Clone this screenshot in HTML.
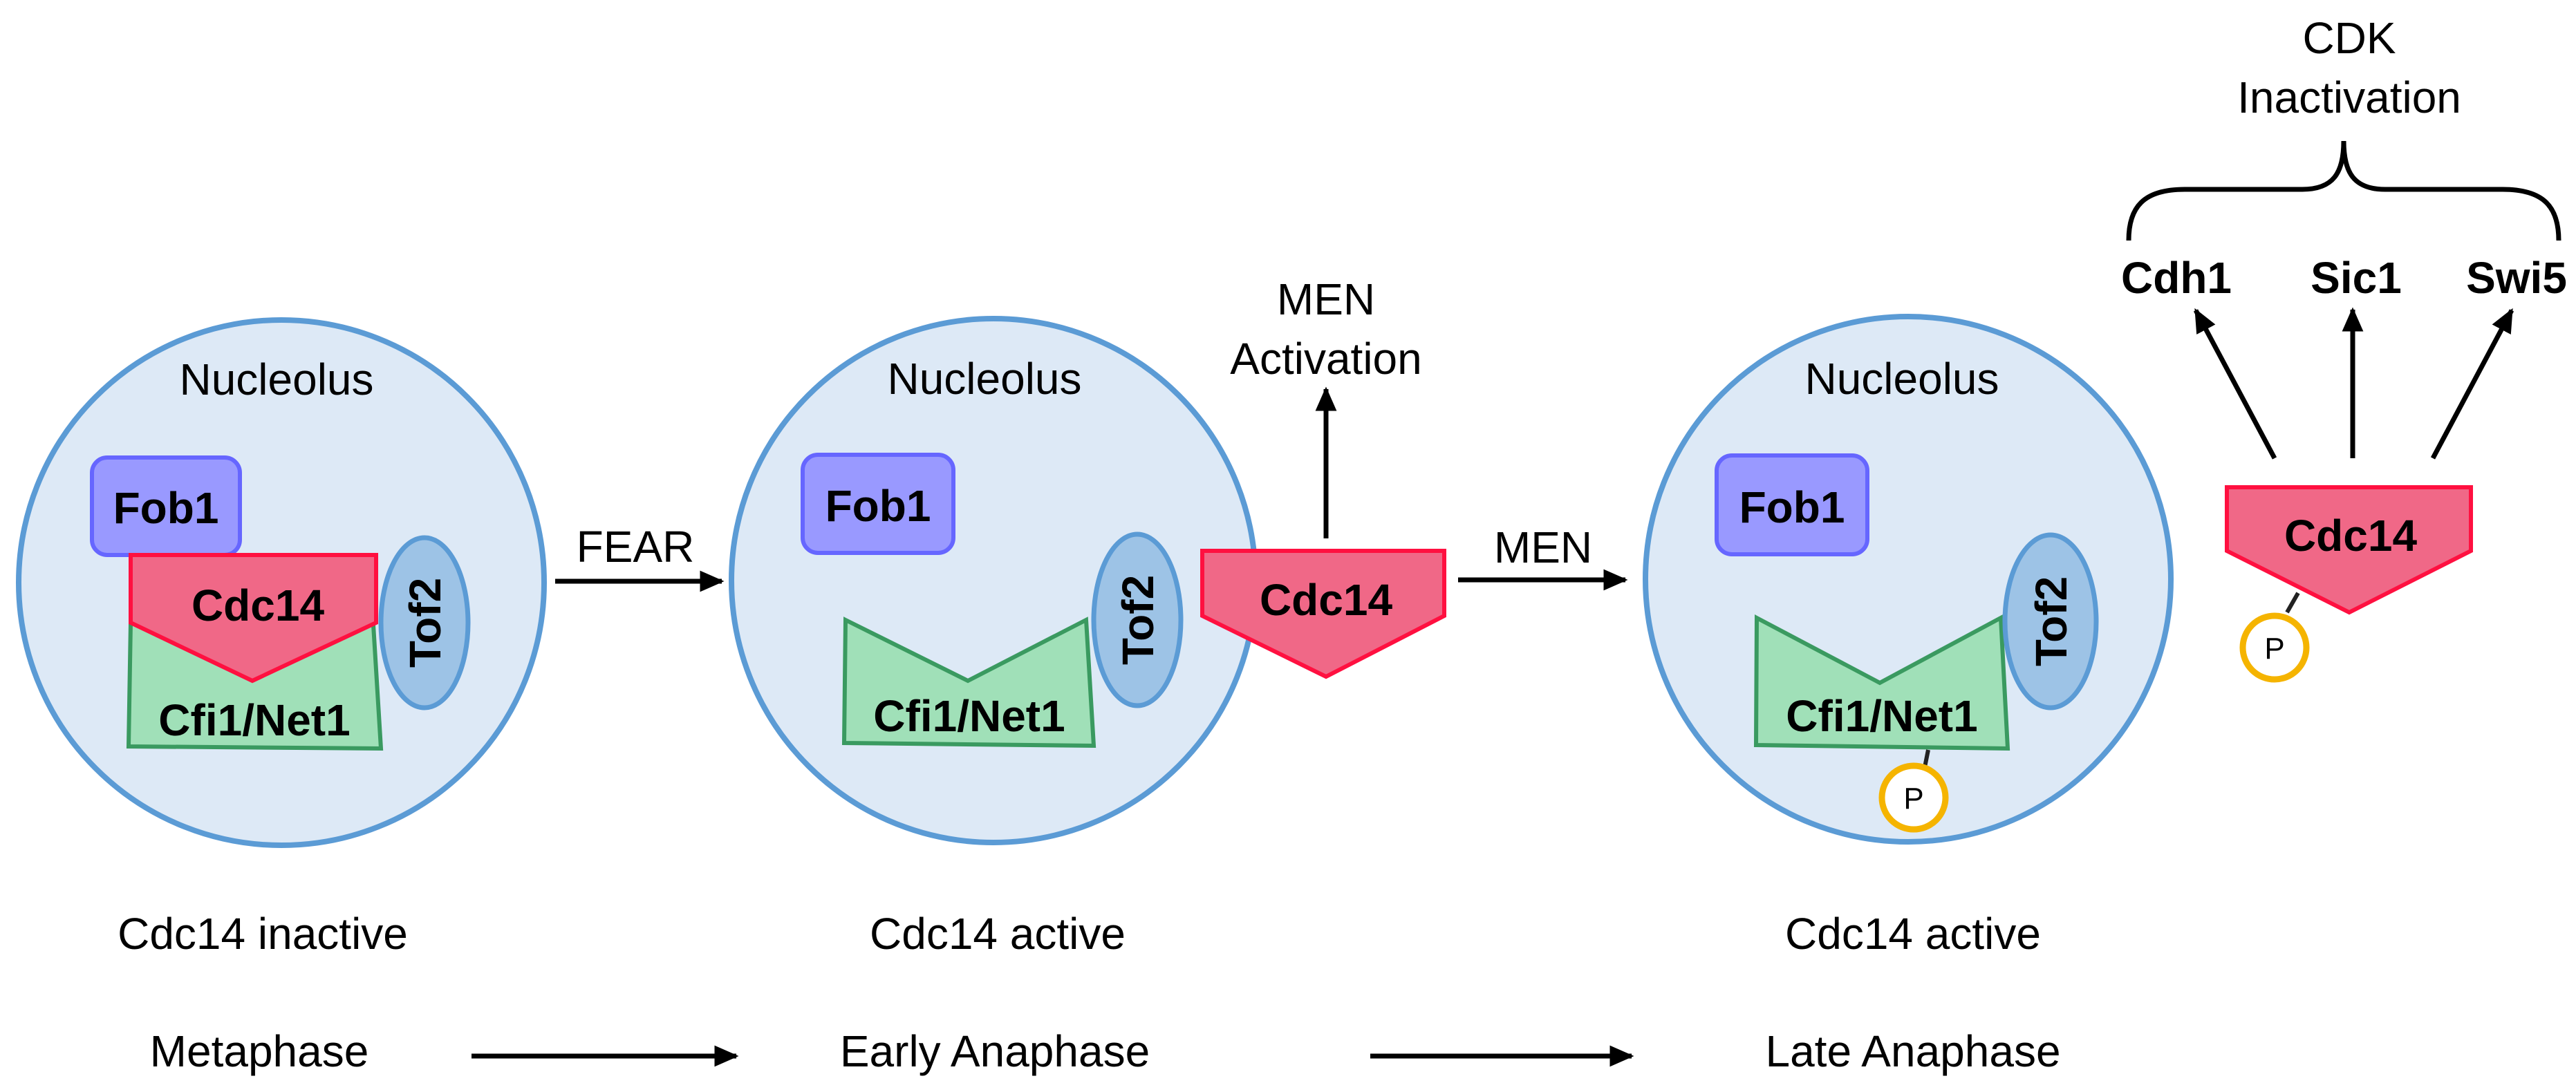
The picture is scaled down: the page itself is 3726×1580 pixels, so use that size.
<!DOCTYPE html>
<html><head><meta charset="utf-8"><style>
html,body{margin:0;padding:0;background:#fff;}
svg{display:block;}
text{font-family:"Liberation Sans",Arial,sans-serif;fill:#000;}
.b{font-weight:bold;}
</style></head><body>
<svg width="3726" height="1580" viewBox="0 0 3726 1580" xmlns="http://www.w3.org/2000/svg">
<defs>
<marker id="ah" markerWidth="5" markerHeight="5" refX="4.5" refY="2.5" orient="auto" markerUnits="strokeWidth">
<path d="M0,0.3 L5,2.5 L0,4.7 z" fill="#000"/>
</marker>
</defs>
<g stroke="#5b9bd5" stroke-width="8" fill="#dde9f6">
<circle cx="407" cy="843" r="380"/>
<circle cx="1437" cy="840" r="379"/>
<circle cx="2760" cy="838" r="380"/>
</g>
<g font-size="64" text-anchor="middle">
<text x="400" y="571">Nucleolus</text>
<text x="1424" y="570">Nucleolus</text>
<text x="2751" y="570">Nucleolus</text>
</g>
<g fill="#9999ff" stroke="#6666ff" stroke-width="6">
<rect x="133" y="662" width="214" height="141" rx="22"/>
<rect x="1161" y="658" width="218" height="142" rx="22"/>
<rect x="2483" y="659" width="218" height="143" rx="22"/>
</g>
<g font-size="64" text-anchor="middle">
<text class="b" x="240" y="757">Fob1</text>
<text class="b" x="1270" y="754">Fob1</text>
<text class="b" x="2592" y="756">Fob1</text>
</g>
<g fill="#a0e0b8" stroke="#3a9a60" stroke-width="6">
<polygon points="189,901 540,904 551,1083 186,1080"/>
<polygon points="1223,897 1400,985 1571,897 1582,1079 1221,1075"/>
<polygon points="2541,894 2719,988 2894,894 2904,1083 2540,1078"/>
</g>
<g fill="#f06887" stroke="#ff1040" stroke-width="6">
<polygon points="189,803 544,803 544,901 365,985 189,901"/>
<polygon points="1739,797 2089,797 2089,891 1918,979 1739,891"/>
<polygon points="3221,705 3574,705 3574,797 3398,886 3221,797"/>
</g>
<g font-size="64" text-anchor="middle">
<text class="b" x="373" y="898">Cdc14</text>
<text class="b" x="1918" y="890">Cdc14</text>
<text class="b" x="3400" y="797">Cdc14</text>
<text class="b" x="368" y="1064">Cfi1/Net1</text>
<text class="b" x="1402" y="1058">Cfi1/Net1</text>
<text class="b" x="2722" y="1058">Cfi1/Net1</text>
</g>
<g fill="#9dc3e6" stroke="#5b9bd5" stroke-width="7">
<ellipse cx="614" cy="901" rx="63" ry="123"/>
<ellipse cx="1645" cy="897" rx="63" ry="124"/>
<ellipse cx="2966" cy="899" rx="66" ry="125"/>
</g>
<g font-size="64" text-anchor="middle">
<text class="b" transform="translate(637,901) rotate(-90)">Tof2</text>
<text class="b" transform="translate(1668,897) rotate(-90)">Tof2</text>
<text class="b" transform="translate(2989,899) rotate(-90)">Tof2</text>
</g>
<g stroke="#222" stroke-width="6">
<line x1="2789" y1="1085" x2="2784" y2="1110"/>
<line x1="3324" y1="858" x2="3308" y2="886"/>
</g>
<g fill="#fff" stroke="#f5b400" stroke-width="9">
<circle cx="2768" cy="1154" r="46"/>
<circle cx="3290" cy="937" r="46"/>
</g>
<g font-size="44" text-anchor="middle">
<text x="2768" y="1170">P</text>
<text x="3290" y="953">P</text>
</g>
<g stroke="#000" stroke-width="7" fill="none" marker-end="url(#ah)">
<line x1="803" y1="841" x2="1044" y2="841"/>
<line x1="2109" y1="839" x2="2351" y2="839"/>
<line x1="1918" y1="779" x2="1918" y2="563"/>
<line x1="3290" y1="663" x2="3176" y2="449"/>
<line x1="3403" y1="663" x2="3403" y2="448"/>
<line x1="3519" y1="663" x2="3633" y2="449"/>
<line x1="682" y1="1528" x2="1065" y2="1528"/>
<line x1="1982" y1="1528" x2="2360" y2="1528"/>
</g>
<g font-size="64" text-anchor="middle">
<text x="919" y="813">FEAR</text>
<text x="2232" y="814">MEN</text>
<text x="1918" y="455">MEN</text>
<text x="1918" y="541">Activation</text>
<text x="3398" y="77">CDK</text>
<text x="3398" y="163">Inactivation</text>
<text class="b" x="3148" y="424">Cdh1</text>
<text class="b" x="3408" y="424">Sic1</text>
<text class="b" x="3640" y="424">Swi5</text>
<text x="380" y="1373">Cdc14 inactive</text>
<text x="1443" y="1373">Cdc14 active</text>
<text x="2767" y="1373">Cdc14 active</text>
<text x="375" y="1543">Metaphase</text>
<text x="1439" y="1543">Early Anaphase</text>
<text x="2767" y="1543">Late Anaphase</text>
</g>
<path d="M3079,348 C3079,300 3100,274 3160,274 L3330,274 C3375,274 3390,250 3390,204 C3390,250 3405,274 3450,274 L3620,274 C3680,274 3701,300 3701,348" stroke="#000" stroke-width="7" fill="none"/>
</svg>
</body></html>
